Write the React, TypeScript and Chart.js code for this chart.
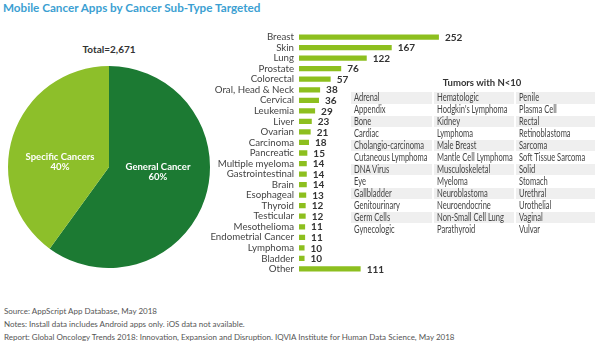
import React, { useEffect, useRef } from "react";
import { Chart, registerables } from "chart.js";
Chart.register(...registerables);

const titleText = "Mobile Cancer Apps by Cancer Sub-Type Targeted";
const totalText = "Total=2,671";

const pieLabels = ["General Cancer", "Specific Cancers"];
const pieValues = [60, 40];
const pieColors = ["#1c7a33", "#8dbf2a"];

const categories = [
  "Breast", "Skin", "Lung", "Prostate", "Colorectal", "Oral, Head & Neck", "Cervical",
  "Leukemia", "Liver", "Ovarian", "Carcinoma", "Pancreatic", "Multiple myeloma",
  "Gastrointestinal", "Brain", "Esophageal", "Thyroid", "Testicular", "Mesothelioma",
  "Endometrial Cancer", "Lymphoma", "Bladder", "Other",
];
const counts = [252, 167, 122, 76, 57, 38, 36, 29, 23, 21, 18, 15, 14, 14, 14, 13, 12, 12, 11, 11, 10, 10, 111];

const tableTitle = "Tumors with N<10";
const tableCol1 = ["Adrenal", "Appendix", "Bone", "Cardiac", "Cholangio-carcinoma", "Cutaneous Lymphoma", "DNA Virus", "Eye", "Gallbladder", "Genitourinary", "Germ Cells", "Gynecologic"];
const tableCol2 = ["Hematologic", "Hodgkin's Lymphoma", "Kidney", "Lymphoma", "Male Breast", "Mantle Cell Lymphoma", "Musculoskeletal", "Myeloma", "Neuroblastoma", "Neuroendocrine", "Non-Small Cell Lung", "Parathyroid"];
const tableCol3 = ["Penile", "Plasma Cell", "Rectal", "Retinoblastoma", "Sarcoma", "Soft Tissue Sarcoma", "Solid", "Stomach", "Urethral", "Urothelial", "Vaginal", "Vulvar"];

const footnotes = [
  "Source: AppScript App Database, May 2018",
  "Notes: Install data includes Android apps only. iOS data not available.",
  "Report: Global Oncology Trends 2018: Innovation, Expansion and Disruption. IQVIA Institute for Human Data Science, May 2018",
];

const FONT = "Lato, 'Open Sans', sans-serif";

export default function App() {
  const pieRef = useRef<HTMLCanvasElement>(null);
  const barRef = useRef<HTMLCanvasElement>(null);

  useEffect(() => {
    const pieLabelPlugin = {
      id: "pieLabels",
      afterDatasetsDraw(chart: any) {
        const ctx = chart.ctx;
        const meta = chart.getDatasetMeta(0);
        ctx.save();
        ctx.fillStyle = "#ffffff";
        ctx.font = `bold 9.5px ${FONT}`;
        ctx.textAlign = "center";
        ctx.textBaseline = "middle";
        meta.data.forEach((arc: any, i: number) => {
          const p = arc.getProps(["x", "y", "startAngle", "endAngle", "outerRadius"], true);
          const mid = (p.startAngle + p.endAngle) / 2;
          const x = p.x + 0.51 * p.outerRadius * Math.cos(mid);
          const y = p.y + 0.16 * p.outerRadius * Math.sin(mid);
          ctx.fillText(pieLabels[i], x, y - 5.2);
          ctx.fillText(pieValues[i] + "%", x, y + 5.2);
        });
        ctx.restore();
      },
    };

    const pie = new Chart(pieRef.current!, {
      type: "pie",
      data: {
        labels: pieLabels,
        datasets: [{ data: pieValues, backgroundColor: pieColors, borderWidth: 0 }],
      },
      options: {
        responsive: false,
        animation: false,
        layout: { padding: 0 },
        plugins: { legend: { display: false }, tooltip: { enabled: false } },
      },
      plugins: [pieLabelPlugin],
    });

    const valuePlugin = {
      id: "barValues",
      afterDatasetsDraw(chart: any) {
        const ctx = chart.ctx;
        const meta = chart.getDatasetMeta(0);
        ctx.save();
        ctx.fillStyle = "#333333";
        ctx.font = `bold 10px ${FONT}`;
        ctx.textAlign = "left";
        ctx.textBaseline = "middle";
        meta.data.forEach((bar: any, i: number) => {
          ctx.fillText(String(counts[i]), bar.x + 6, bar.y + 0.5);
        });
        ctx.restore();
      },
    };

    const bar = new Chart(barRef.current!, {
      type: "bar",
      data: {
        labels: categories,
        datasets: [{ data: counts, backgroundColor: "#8dbf1f", borderWidth: 0, barPercentage: 0.5, categoryPercentage: 1 }],
      },
      options: {
        indexAxis: "y",
        responsive: false,
        animation: false,
        layout: { padding: 0 },
        plugins: { legend: { display: false }, tooltip: { enabled: false } },
        scales: {
          x: { display: false, min: 0, max: 326 },
          y: {
            grid: { display: false, drawTicks: false },
            border: { display: false },
            ticks: { color: "#444444", font: { family: FONT, size: 9.7 }, padding: 5, autoSkip: false },
            afterFit(scale: any) {
              scale.width = 109;
            },
          },
        },
      },
      plugins: [valuePlugin],
    });

    return () => {
      pie.destroy();
      bar.destroy();
    };
  }, []);

  const cols = [tableCol1, tableCol2, tableCol3];
  const colLeft = [351, 434, 516];
  const colWidth = [81, 80, 79];

  return (
    <div style={{ position: "absolute", left: 0, top: 0, width: 604, height: 346, background: "#fff", overflow: "hidden", fontFamily: FONT }}>
      <div style={{ position: "absolute", left: 3, top: 0, fontSize: 11.7, fontWeight: 700, color: "#3c9fd2", whiteSpace: "nowrap", lineHeight: "14px" }}>{titleText}</div>
      <div style={{ position: "absolute", left: 59, width: 100, top: 42, textAlign: "center", fontSize: 10, fontWeight: 700, color: "#333", lineHeight: "14px" }}>{totalText}</div>
      <canvas ref={pieRef} width={202} height={202} style={{ position: "absolute", left: 8, top: 66, width: 202, height: 202 }} />
      <canvas ref={barRef} width={290} height={264} style={{ position: "absolute", left: 190, top: 21, width: 290, height: 264 }} />
      <div style={{ position: "absolute", left: 400, width: 164, top: 76, textAlign: "center", fontSize: 9.5, fontWeight: 700, color: "#333", lineHeight: "14px" }}>{tableTitle}</div>
      {cols.map((col, c) =>
        col.map((t, r) => (
          <div key={c + "-" + r} style={{ position: "absolute", left: colLeft[c], top: 92 + r * 11.96, width: colWidth[c], height: 11.5, background: r % 2 === 0 ? "#efefef" : "transparent", overflow: "hidden" }}>
            <span style={{ display: "inline-block", position: "absolute", left: 3, top: 0, fontFamily: FONT, fontSize: 10.5, color: "#444", lineHeight: "11.5px", whiteSpace: "nowrap", transform: "scaleX(0.72)", transformOrigin: "0 50%" }}>{t}</span>
          </div>
        ))
      )}
      {footnotes.map((t, i) => (
        <div key={i} style={{ position: "absolute", left: 4, top: 305 + i * 13, fontSize: 8, color: "#555", whiteSpace: "nowrap", lineHeight: "12px" }}>{t}</div>
      ))}
    </div>
  );
}
